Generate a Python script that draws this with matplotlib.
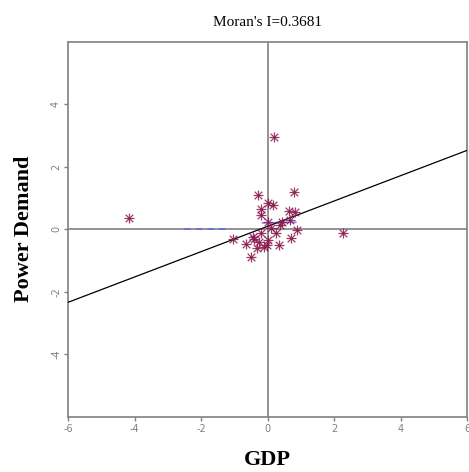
import numpy as np
import matplotlib
matplotlib.use('Agg')
import matplotlib.pyplot as plt

# standardized values (GDP vs spatially lagged power demand)
gdp = [-4.16, -0.28, 0.78, 0.02, 0.17, -0.20, -0.20, 0.65, 0.83, 0.02, 0.43, 0.68,
       0.38, 0.88, 2.28, -1.03, -0.45, -0.20, 0.25, 0.71, -0.66, -0.25, 0.02, -0.02,
       -0.11, -0.32, 0.34, -0.50, 0.20, -0.40, 0.10]
power = [0.35, 1.10, 1.20, 0.83, 0.76, 0.65, 0.44, 0.59, 0.54, 0.24, 0.24, 0.30,
         0.14, -0.04, -0.11, -0.32, -0.24, -0.13, -0.11, -0.27, -0.48, -0.40, -0.34, -0.50,
         -0.58, -0.61, -0.50, -0.88, 2.95, -0.30, 0.05]

# faint blue smoother pieces
smooth1_x = [-2.5, -1.1]
smooth1_y = [0.0, 0.0]
smooth2_x = [-0.15, 0.85]
smooth2_y = [0.2, 0.22]

slope = 0.405
intercept = 0.09
moran = "Moran's I=0.3681"

xticks = [-6, -4, -2, 0, 2, 4, 6]
yticks = [-4, -2, 0, 2, 4]

fig = plt.figure(figsize=(4.69, 4.72), dpi=100)
ax = fig.add_axes([0.145, 0.117, 0.851, 0.795])

gray = '#808080'
ax.axhline(0, color=gray, lw=1.2, zorder=1)
ax.axvline(0, color=gray, lw=1.2, zorder=1)

xs = np.array([-6, 6])
ax.plot(xs, intercept + slope * xs, color='black', lw=0.9, zorder=3)

ax.plot(smooth1_x, smooth1_y, color='#4a5cff', lw=1.2, ls=(0, (4, 3)), alpha=0.7, zorder=2)
ax.plot(smooth2_x, smooth2_y, color='#4a5cff', lw=1.2, alpha=0.7, zorder=2)

mc = '#8a1a4e'
ax.scatter(gdp, power, marker='+', s=45, color=mc, linewidths=0.9, alpha=0.85, zorder=4)
ax.scatter(gdp, power, marker='x', s=30, color=mc, linewidths=0.9, alpha=0.85, zorder=4)

ax.set_xlim(-6, 6)
ax.set_ylim(-6, 6)
ax.set_xticks(xticks)
ax.set_yticks(yticks)
ax.set_xticklabels([str(t) for t in xticks])
ax.set_yticklabels([str(t) for t in yticks], rotation=90, va='center')
ax.tick_params(colors=gray, labelcolor=gray, labelsize=7, length=3, width=1, pad=2)
for sp in ax.spines.values():
    sp.set_color(gray)
    sp.set_linewidth(1.2)

ax.set_title(moran, fontfamily='Liberation Serif', fontsize=11, pad=11)
ax.set_xlabel('GDP', fontfamily='Liberation Serif', fontweight='bold', fontsize=16, labelpad=12)
ax.set_ylabel('Power Demand', fontfamily='Liberation Serif', fontweight='bold', fontsize=16, labelpad=12)

fig.savefig('out.png', dpi=100)
